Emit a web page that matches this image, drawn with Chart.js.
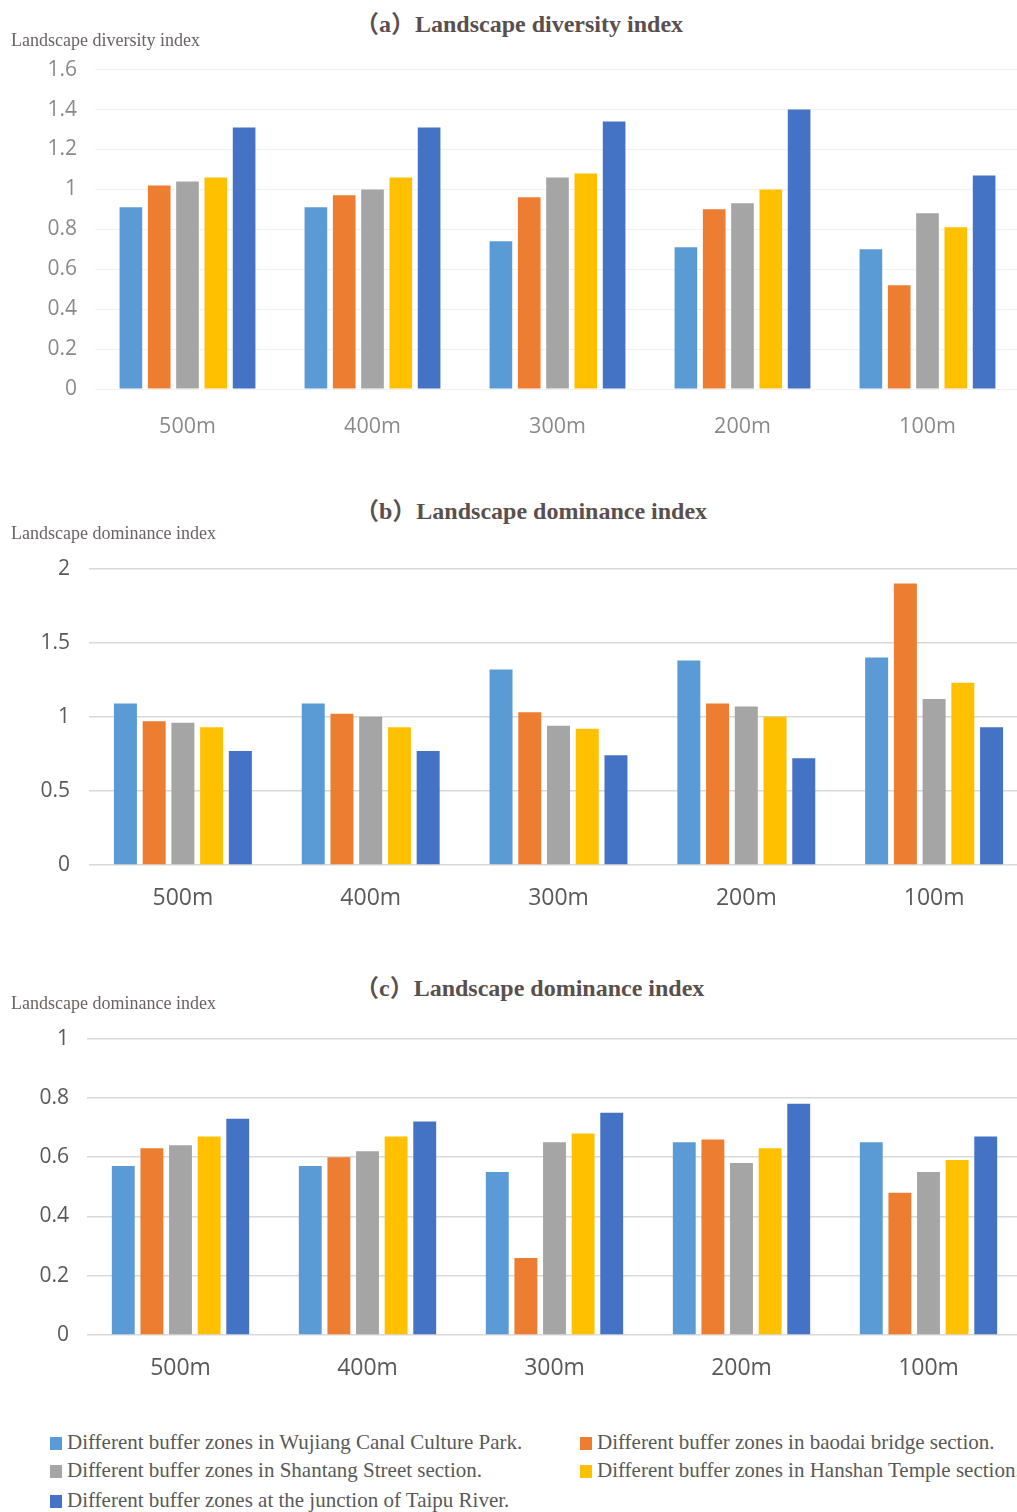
<!DOCTYPE html>
<html>
<head>
<meta charset="utf-8">
<script src="https://cdn.jsdelivr.net/npm/chart.js@4.4.1/dist/chart.umd.min.js"></script>
<style>
  html, body { margin: 0; padding: 0; width: 1017px; height: 1512px; overflow: hidden; background: #fff; }
  .box { position: absolute; left: 0; }
  .title { position: absolute; left: 355px; font-family: "Liberation Serif", "Noto Sans CJK SC", serif; font-size: 24px; font-weight: bold; color: #5a4f4f; white-space: nowrap; line-height: 1; z-index: 2; }
  .ytitle { position: absolute; left: 11px; font-family: "Liberation Serif", serif; font-size: 18px; color: #6b6363; white-space: nowrap; line-height: 1; z-index: 2; }
  #legend { position: absolute; left: 0; top: 1430px; width: 1017px; font-family: "Liberation Serif", serif; font-size: 21px; color: #595959; }
  .item { position: absolute; white-space: nowrap; line-height: 24px; }
  .item span.sw { display: inline-block; width: 12px; height: 13px; margin-right: 5px; vertical-align: -1px; }
</style>
</head>
<body>

<div class="box" style="top:39px;width:1020px;height:400px"><canvas id="chartA"></canvas></div>
<div class="box" style="top:537px;width:1028px;height:376px"><canvas id="chartB"></canvas></div>
<div class="box" style="top:1008px;width:1022px;height:375px"><canvas id="chartC"></canvas></div>

<div class="title" style="top:12px">（a）Landscape diversity index</div>
<div class="ytitle" style="top:31px">Landscape diversity index</div>

<div class="title" style="top:499px">（b）Landscape dominance index</div>
<div class="ytitle" style="top:524px">Landscape dominance index</div>

<div class="title" style="top:976px">（c）Landscape dominance index</div>
<div class="ytitle" style="top:994px">Landscape dominance index</div>

<div id="legend"></div>

<script>
const categories = ['500m', '400m', '300m', '200m', '100m'];

const seriesNames = [
  'Different buffer zones in Wujiang Canal Culture Park.',
  'Different buffer zones in baodai bridge section.',
  'Different buffer zones in Shantang Street section.',
  'Different buffer zones in Hanshan Temple section.',
  'Different buffer zones at the junction of Taipu River.'
];
const seriesColors = ['#5b9bd5', '#ed7d31', '#a5a5a5', '#ffc000', '#4472c4'];

// (a) landscape diversity index
const aWujiang  = [0.91, 0.91, 0.74, 0.71, 0.70];
const aBaodai   = [1.02, 0.97, 0.96, 0.90, 0.52];
const aShantang = [1.04, 1.00, 1.06, 0.93, 0.88];
const aHanshan  = [1.06, 1.06, 1.08, 1.00, 0.81];
const aTaipu    = [1.31, 1.31, 1.34, 1.40, 1.07];

// (b) landscape dominance index
const bWujiang  = [1.09, 1.09, 1.32, 1.38, 1.40];
const bBaodai   = [0.97, 1.02, 1.03, 1.09, 1.90];
const bShantang = [0.96, 1.00, 0.94, 1.07, 1.12];
const bHanshan  = [0.93, 0.93, 0.92, 1.00, 1.23];
const bTaipu    = [0.77, 0.77, 0.74, 0.72, 0.93];

// (c) landscape dominance index
const cWujiang  = [0.57, 0.57, 0.55, 0.65, 0.65];
const cBaodai   = [0.63, 0.60, 0.26, 0.66, 0.48];
const cShantang = [0.64, 0.62, 0.65, 0.58, 0.55];
const cHanshan  = [0.67, 0.67, 0.68, 0.63, 0.59];
const cTaipu    = [0.73, 0.72, 0.75, 0.78, 0.67];

const yTicksA = [0, 0.2, 0.4, 0.6, 0.8, 1, 1.2, 1.4, 1.6];
const yTicksB = [0, 0.5, 1, 1.5, 2];
const yTicksC = [0, 0.2, 0.4, 0.6, 0.8, 1];

function makeChart(id, series, yTicks, opt) {
  const datasets = series.map((vals, i) => ({
    label: seriesNames[i],
    data: vals,
    backgroundColor: seriesColors[i],
    categoryPercentage: 0.765,
    barPercentage: 0.8
  }));
  const font = { family: '"Open Sans", "Noto Sans", sans-serif', size: opt.fontSize };
  return new Chart(document.getElementById(id), {
    type: 'bar',
    data: { labels: categories, datasets },
    options: {
      responsive: true,
      maintainAspectRatio: false,
      animation: false,
      layout: { padding: 0 },
      plugins: { legend: { display: false }, tooltip: { enabled: false } },
      scales: {
        x: {
          grid: { display: false, drawTicks: false },
          border: { display: false },
          ticks: { color: opt.textColor, font: { ...font, size: opt.xFontSize }, padding: opt.xPad },
          afterFit: s => { s.height = opt.xHeight; }
        },
        y: {
          min: 0,
          max: yTicks[yTicks.length - 1],
          afterBuildTicks: s => { s.ticks = yTicks.map(v => ({ value: v })); },
          grid: { color: opt.gridColor, lineWidth: opt.gridWidth, drawTicks: false },
          border: { display: false },
          ticks: {
            color: opt.textColor,
            font,
            padding: opt.yPad,
            callback: v => String(+v.toFixed(1))
          },
          afterFit: s => { s.width = opt.yWidth; }
        }
      }
    }
  });
}

makeChart('chartA', [aWujiang, aBaodai, aShantang, aHanshan, aTaipu], yTicksA, {
  fontSize: 21, xFontSize: 21.5, textColor: '#8a8a8a', gridColor: '#f1f1f1', gridWidth: 1,
  xPad: 25, xHeight: 50, yPad: 18, yWidth: 95
});
makeChart('chartB', [bWujiang, bBaodai, bShantang, bHanshan, bTaipu], yTicksB, {
  fontSize: 21, xFontSize: 23, textColor: '#595959', gridColor: '#d9d9d9', gridWidth: 1.5,
  xPad: 20, xHeight: 48, yPad: 19, yWidth: 89
});
makeChart('chartC', [cWujiang, cBaodai, cShantang, cHanshan, cTaipu], yTicksC, {
  fontSize: 21, xFontSize: 23, textColor: '#595959', gridColor: '#d9d9d9', gridWidth: 1.5,
  xPad: 20, xHeight: 48, yPad: 18, yWidth: 87
});

// legend in two columns, built from the series names
const legendPos = [[50, 0], [580, 0], [50, 28], [580, 28], [50, 58]];
const legend = document.getElementById('legend');
seriesNames.forEach((name, i) => {
  const el = document.createElement('div');
  el.className = 'item';
  el.style.left = legendPos[i][0] + 'px';
  el.style.top = legendPos[i][1] + 'px';
  el.innerHTML = '<span class="sw" style="background:' + seriesColors[i] + '"></span>' + name;
  legend.appendChild(el);
});
</script>
</body>
</html>
